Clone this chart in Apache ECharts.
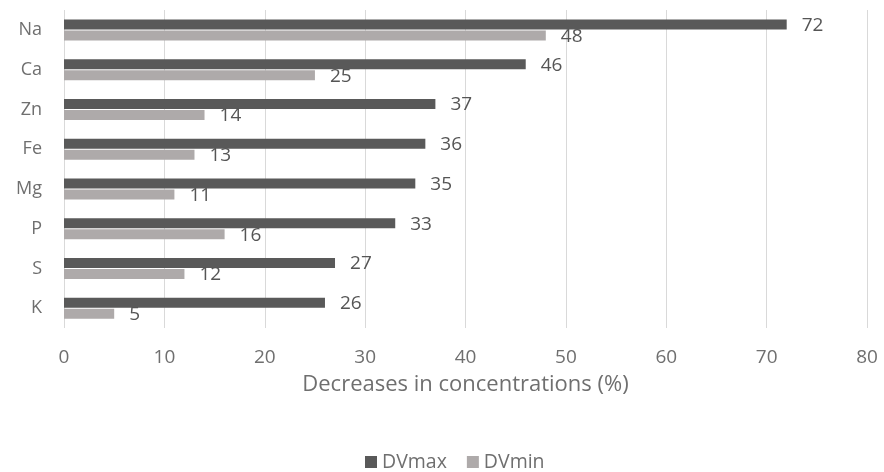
<!DOCTYPE html>
<html>
<head>
<meta charset="utf-8">
<script src="https://cdn.jsdelivr.net/npm/echarts@6/dist/echarts.min.js"></script>
<style>
  html, body { margin: 0; padding: 0; background: #fff; }
  #chart { width: 884px; height: 472px; }
</style>
</head>
<body>
<div id="chart"></div>
<script>
// Element categories, top to bottom
const elements = ['Na', 'Ca', 'Zn', 'Fe', 'Mg', 'P', 'S', 'K'];
// Decrease in concentration (%) per element
const dvMax = [72, 46, 37, 36, 35, 33, 27, 26];
const dvMin = [48, 25, 14, 13, 11, 16, 12, 5];
const xTicks = [0, 10, 20, 30, 40, 50, 60, 70, 80];

const FONT = '"Open Sans", "DejaVu Sans", sans-serif';
const AXIS_TEXT = '#6f6f6f';
const VALUE_TEXT = '#555555';

const chart = echarts.init(document.getElementById('chart'), null, { renderer: 'canvas' });

function valueLabel(dy) {
  return {
    show: true,
    position: 'right',
    distance: 15,
    offset: [0, dy],
    color: VALUE_TEXT,
    fontFamily: FONT,
    fontSize: 19
  };
}

chart.setOption({
  animation: false,
  textStyle: { fontFamily: FONT },
  grid: { left: 64, right: 17, top: 10, bottom: 144, containLabel: false },
  legend: {
    top: 452,
    left: 365,
    padding: 0,
    icon: 'rect',
    itemWidth: 12,
    itemHeight: 12,
    itemGap: 20,
    textStyle: { color: AXIS_TEXT, fontSize: 19.5, fontFamily: FONT },
    data: ['DVmax', 'DVmin']
  },
  xAxis: {
    type: 'value',
    min: xTicks[0],
    max: xTicks[xTicks.length - 1],
    interval: 10,
    name: 'Decreases in concentrations (%)',
    nameLocation: 'middle',
    nameGap: 46,
    nameTextStyle: { color: AXIS_TEXT, fontSize: 22, fontFamily: FONT },
    axisLine: { show: false },
    axisTick: { show: false },
    axisLabel: { color: AXIS_TEXT, fontSize: 19, margin: 20, fontFamily: FONT },
    splitLine: { show: true, lineStyle: { color: '#d9d9d9', width: 1 } }
  },
  yAxis: {
    type: 'category',
    inverse: true,
    data: elements,
    axisLine: { show: false },
    axisTick: { show: false },
    axisLabel: { color: AXIS_TEXT, fontSize: 18, margin: 22, fontFamily: FONT }
  },
  series: [
    {
      name: 'DVmax',
      type: 'bar',
      data: dvMax,
      barWidth: 10,
      barGap: '10%',
      itemStyle: { color: '#595959' },
      label: valueLabel(1)
    },
    {
      name: 'DVmin',
      type: 'bar',
      data: dvMin,
      barWidth: 10,
      barGap: '10%',
      itemStyle: { color: '#aeaaaa' },
      label: valueLabel(1)
    }
  ]
});
</script>
</body>
</html>
